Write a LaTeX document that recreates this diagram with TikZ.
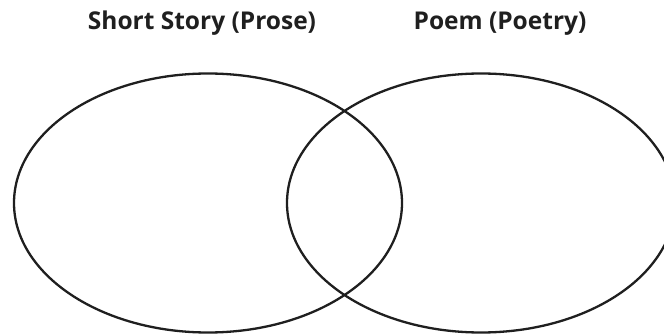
\documentclass[tikz,border=0pt]{standalone}
\usepackage{fontspec}
\setmainfont{Open Sans}
\begin{document}
\begin{tikzpicture}[x=1pt,y=-1pt,
  title/.style={font=\bfseries\fontsize{24.5}{28}\selectfont, anchor=base, inner sep=0pt, text=black!88},
  venn/.style={draw=black!88, line width=2.3pt}]
\useasboundingbox (0,0) rectangle (664,334);
\clip (0,0) rectangle (664,334);
\node[title] (tl) at (202,30) {Short Story (Prose)};
\node[title] (tr) at (500,30) {Poem (Poetry)};
\draw[venn] (208,203) ellipse [x radius=194, y radius=129.5];
\draw[venn] (481,203) ellipse [x radius=194, y radius=129.5];
\end{tikzpicture}
\end{document}
